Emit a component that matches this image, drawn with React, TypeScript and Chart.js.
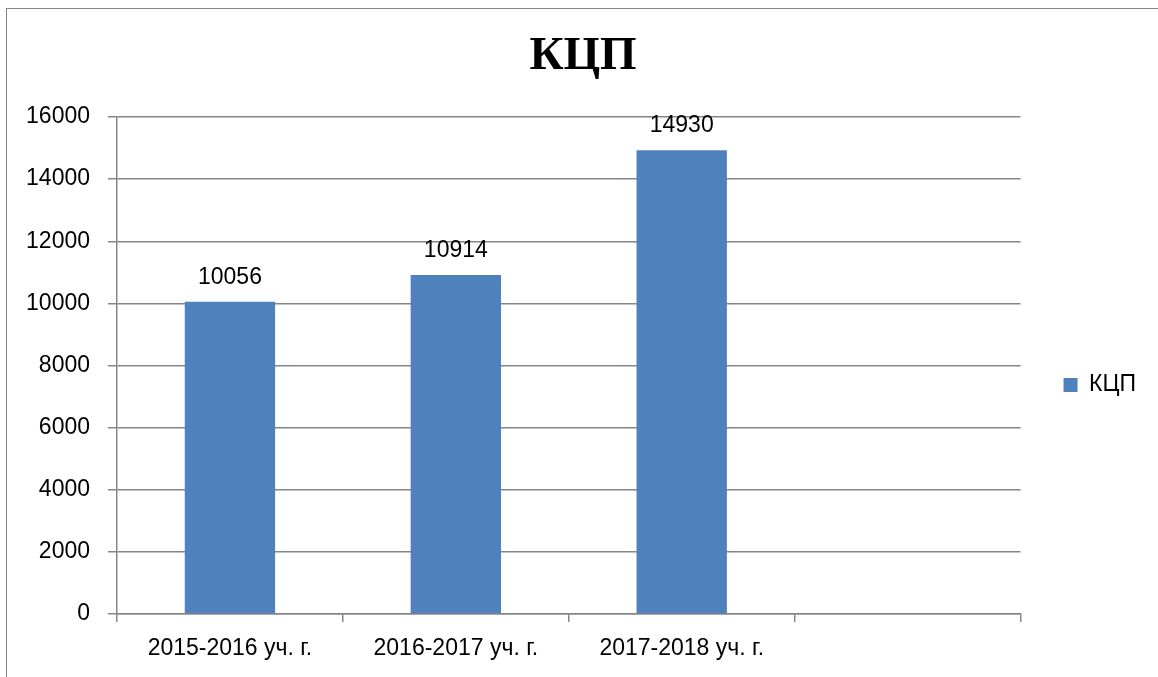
import React, { useEffect, useRef } from 'react';
import { Chart, registerables } from 'chart.js';

Chart.register(...registerables);

const TITLE = 'КЦП';
const SERIES_NAME = 'КЦП';
const CATEGORIES = ['2015-2016 уч. г.', '2016-2017 уч. г.', '2017-2018 уч. г.', ''];
const VALUES: (number | null)[] = [10056, 10914, 14930, null];
const Y_MIN = 0;
const Y_MAX = 16000;
const Y_STEP = 2000;

const BAR_COLOR = '#4F81BD';
const GRID_COLOR = '#868686';
const SANS = "'Liberation Sans', Arial, sans-serif";
const SERIF = "'Liberation Serif', 'Times New Roman', serif";

const PAD_LEFT = 20;
const PAD_RIGHT = 12;
const PLOT_LEFT = 117;
const PLOT_BOTTOM = 614;
const W = 1158;
const H = 677;

const valueLabels = {
  id: 'valueLabels',
  afterDatasetsDraw(chart: any) {
    const ctx = chart.ctx;
    const meta = chart.getDatasetMeta(0);
    ctx.save();
    ctx.font = `23px ${SANS}`;
    ctx.fillStyle = '#000';
    ctx.textAlign = 'center';
    ctx.textBaseline = 'alphabetic';
    meta.data.forEach((el: any, i: number) => {
      const v = chart.data.datasets[0].data[i];
      if (v === null || v === undefined) return;
      ctx.fillText(String(v), el.x, el.y - 18);
    });
    ctx.restore();
  },
};

export default function App() {
  const ref = useRef<HTMLCanvasElement>(null);

  useEffect(() => {
    if (!ref.current) return;
    const chart = new Chart(ref.current, {
      type: 'bar',
      data: {
        labels: CATEGORIES,
        datasets: [
          {
            label: SERIES_NAME,
            data: VALUES,
            backgroundColor: BAR_COLOR,
            borderWidth: 0,
            categoryPercentage: 1,
            barPercentage: 0.4,
          },
        ],
      },
      options: {
        animation: false,
        responsive: false,
        devicePixelRatio: 1,
        layout: { padding: { left: PAD_LEFT, right: PAD_RIGHT, top: 0, bottom: 0 } },
        plugins: {
          title: {
            display: true,
            text: TITLE,
            color: '#000',
            font: { family: SERIF, size: 47, weight: 'bold', lineHeight: 1.2 },
            padding: { top: 28.8, bottom: 31.8 },
          },
          legend: {
            display: true,
            position: 'right',
            fullSize: false,
            title: { display: true, text: ' ', font: { size: 12, lineHeight: 1.2 }, padding: { top: 24.6, bottom: 0 } },
            labels: {
              boxWidth: 14,
              boxHeight: 14,
              padding: 43,
              color: '#000',
              font: { family: SANS, size: 23 },
            },
          },
          tooltip: { enabled: false },
        },
        scales: {
          x: {
            type: 'category',
            offset: true,
            grid: {
              offset: true,
              drawOnChartArea: false,
              drawTicks: true,
              tickLength: 8,
              color: GRID_COLOR,
              lineWidth: 1.5,
            },
            border: { display: true, color: GRID_COLOR, width: 1.5 },
            ticks: {
              color: '#000',
              font: { family: SANS, size: 23 },
              padding: 13,
              maxRotation: 0,
              autoSkip: false,
            },
            afterFit: (s: any) => {
              s.height = H - PLOT_BOTTOM;
            },
          },
          y: {
            min: Y_MIN,
            max: Y_MAX,
            grid: { color: GRID_COLOR, tickLength: 9, drawTicks: true, lineWidth: 1.5 },
            border: { display: true, color: GRID_COLOR, width: 1.5 },
            ticks: {
              stepSize: Y_STEP,
              color: '#000',
              font: { family: SANS, size: 23 },
              padding: 18,
              callback: (v: any) => String(v),
            },
            afterFit: (s: any) => {
              s.width = PLOT_LEFT - PAD_LEFT;
            },
          },
        },
      },
      plugins: [valueLabels],
    });
    return () => chart.destroy();
  }, []);

  return (
    <div style={{ position: 'fixed', left: 0, top: 0, width: W, height: H, overflow: 'hidden', background: '#fff' }}>
      <div
        style={{
          position: 'absolute',
          left: 6,
          top: 8,
          width: 1300,
          height: 900,
          borderLeft: '1px solid #868686',
          borderTop: '1px solid #868686',
        }}
      />
      <canvas ref={ref} width={W} height={H} style={{ position: 'absolute', left: 0, top: 0, width: W, height: H }} />
    </div>
  );
}
